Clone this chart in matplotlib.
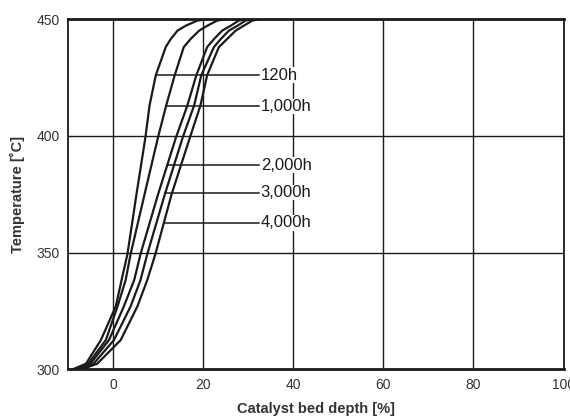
import numpy as np
import matplotlib.pyplot as plt

plt.rcParams['font.family'] = ['Liberation Sans', 'DejaVu Sans']

temps = [300, 302.5, 312.6, 327, 338.3, 349.4, 375, 399.5, 413, 426,
         438, 441.4, 445, 447.1, 449.3, 450]
depth_120 = [-9, -6, -2.7, 0.6, 1.9, 3.2, 5.2, 7.2, 8.1, 9.5,
             11.7, 12.8, 14.3, 16.1, 18.7, 21]
depth_1000 = [-8.5, -5.5, -1.6, 1, 2.8, 3.9, 7, 10, 11.8, 13.7,
              15.7, 17.2, 19.1, 20.9, 23.1, 25]
depth_2000 = [-8, -5, -0.9, 2.4, 4.7, 6.1, 10, 14, 16.5, 18.5,
              20.9, 22.4, 24.2, 26.1, 27.9, 29.5]
depth_3000 = [-7.5, -4.3, 0.2, 3.9, 6.1, 7.6, 11.5, 15.5, 18, 19.6,
              22.4, 23.9, 25.7, 27.6, 29.4, 31]
depth_4000 = [-7, -3.5, 1.7, 5.4, 7.6, 9.4, 13, 17.1, 19.4, 20.9,
              23.5, 25.3, 27.2, 29, 30.9, 32.5]

labels = ['120h', '1,000h', '2,000h', '3,000h', '4,000h']
label_temps = [426, 412.6, 387.5, 375.7, 362.8]

x_ticks = [0, 20, 40, 60, 80, 100]
y_ticks = [300, 350, 400, 450]

curves = [depth_120, depth_1000, depth_2000, depth_3000, depth_4000]

fig = plt.figure(figsize=(5.7, 4.16), dpi=100)
ax = fig.add_axes([0.1193, 0.1118, 0.8693, 0.8425])

for d in curves:
    ax.plot(d, temps, color='#1a1a1a', lw=1.6, zorder=3, solid_capstyle='round')

# leader lines + labels
x_end = 32.3
for d, lab, t in zip(curves, labels, label_temps):
    x0 = np.interp(t, temps, d)
    ax.plot([x0, x_end], [t, t], color='#1a1a1a', lw=1.1, zorder=3)
    ax.text(x_end + 0.5, t, lab, fontsize=12, va='center', ha='left',
            color='#1a1a1a', zorder=4,
            bbox=dict(facecolor='white', edgecolor='none', pad=0.3))

ax.set_xlim(-10, 100)
ax.set_ylim(300, 450)
ax.set_xticks(x_ticks)
ax.set_yticks(y_ticks)
ax.grid(True, color='#1a1a1a', lw=1.0)
ax.set_axisbelow(True)
ax.tick_params(length=0, labelsize=10, labelcolor='#333333')
ax.tick_params(axis='x', pad=6)
ax.tick_params(axis='y', pad=6)

for side in ['left', 'right']:
    ax.spines[side].set_linewidth(1.3)
for side in ['top', 'bottom']:
    ax.spines[side].set_linewidth(2.0)
for s in ax.spines.values():
    s.set_color('#1a1a1a')

ax.set_xlabel('Catalyst bed depth [%]', fontsize=10.5, fontweight='bold',
              color='#333333', labelpad=7)
ax.set_ylabel('Temperature [˚C]', fontsize=10.5, fontweight='bold',
              color='#333333', labelpad=8)

fig.savefig('out.png', dpi=100)
